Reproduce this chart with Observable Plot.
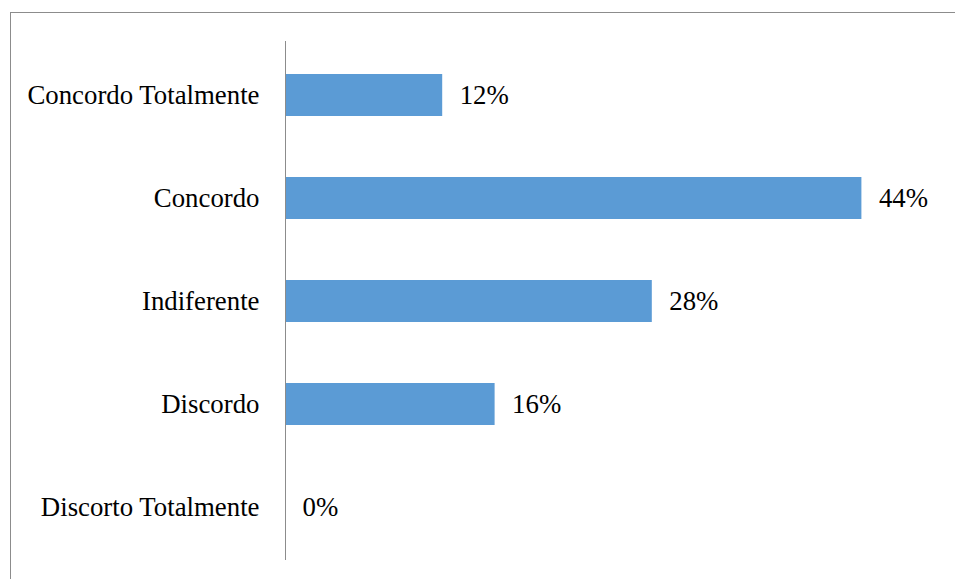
<!DOCTYPE html>
<html>
<head>
<meta charset="utf-8">
<script src="https://cdn.jsdelivr.net/npm/d3@7"></script>
<script src="https://cdn.jsdelivr.net/npm/@observablehq/plot@0.6"></script>
<style>
  html, body { margin: 0; padding: 0; background: #fff; overflow: hidden; }
  #wrap { position: relative; width: 955px; height: 579px; overflow: hidden; }
  #frame { position: absolute; left: 10px; top: 12px; width: 1200px; height: 1200px; border: 1px solid #8c8c8c; box-sizing: border-box; pointer-events: none; }
  #chart { position: absolute; left: 0; top: 0; }
</style>
</head>
<body>
<div id="wrap"><div id="chart"></div><div id="frame"></div></div>
<script>
const categories = ["Concordo Totalmente", "Concordo", "Indiferente", "Discordo", "Discorto Totalmente"];
const values = [12, 44, 28, 16, 0];

const data = categories.map((c, i) => ({category: c, value: values[i]}));

const chart = Plot.plot({
  width: 955,
  height: 579,
  marginLeft: 285,
  marginRight: 15,
  marginTop: 41,
  marginBottom: 19,
  style: {fontFamily: "'Liberation Serif', 'Times New Roman', serif", fontSize: "26.8px", color: "#000", background: "transparent"},
  x: {domain: [0, 50], axis: null},
  y: {domain: categories, paddingInner: 0.595, paddingOuter: 0.2975, label: null, tickSize: 0, tickPadding: 26},
  marks: [
    Plot.barX(data, {y: "category", x: "value", fill: "#5B9BD5"}),
    Plot.ruleX([0], {stroke: "#8c8c8c", strokeWidth: 1}),
    Plot.text(data, {y: "category", x: "value", text: d => `${d.value}%`, textAnchor: "start", dx: 17, fill: "#000"})
  ]
});
document.getElementById("chart").appendChild(chart);
</script>
</body>
</html>
